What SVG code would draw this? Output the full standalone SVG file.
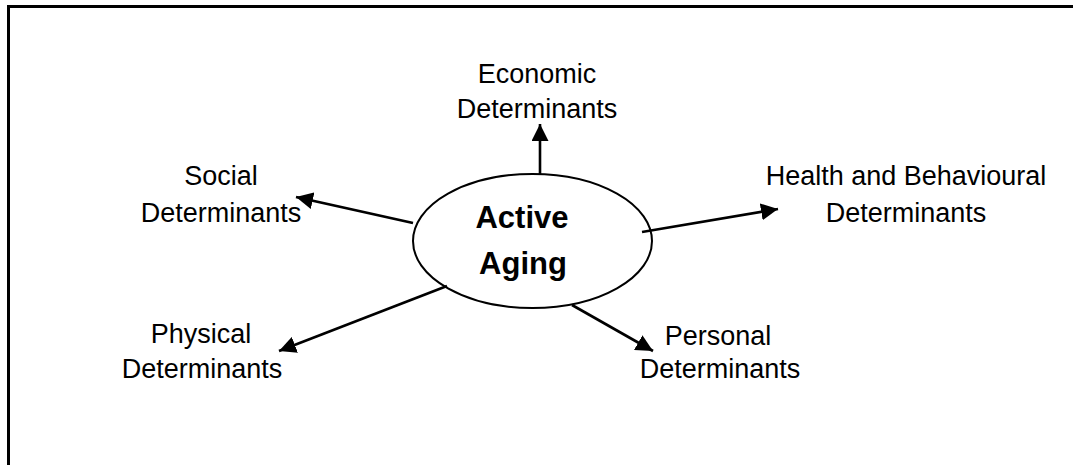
<svg xmlns="http://www.w3.org/2000/svg" width="1073" height="465" viewBox="0 0 1073 465">
<defs>
<style>
.lbl{font-family:"Liberation Sans",Arial,sans-serif;font-size:27px;fill:#000;text-anchor:middle}
.ctr{font-family:"Liberation Sans",Arial,sans-serif;font-size:31px;font-weight:bold;fill:#000;text-anchor:middle}
.edge{stroke:#000;stroke-width:2.6;fill:none}
</style>
<marker id="ah" markerUnits="userSpaceOnUse" markerWidth="19" markerHeight="17" refX="17" refY="8.5" orient="auto">
<path d="M0,0 L17,8.5 L0,17 Z" fill="#000"/>
</marker>
</defs>
<rect width="1073" height="465" fill="#fff"/>
<g id="frame">
<path d="M8.5,465 L8.5,6.5 L1073,6.5" stroke="#000" stroke-width="3" fill="none"/>
</g>
<g id="active-aging">
<ellipse cx="532.5" cy="241" rx="119.5" ry="67" fill="#fff" stroke="#000" stroke-width="2"/>
<text class="ctr" x="522" y="228">Active</text>
<text class="ctr" x="523" y="274">Aging</text>
</g>
<g id="connectors">
<line class="edge" x1="540" y1="175" x2="540" y2="124" marker-end="url(#ah)"/>
<line class="edge" x1="413" y1="223" x2="296" y2="197" marker-end="url(#ah)"/>
<line class="edge" x1="447" y1="286" x2="279" y2="351" marker-end="url(#ah)"/>
<line class="edge" x1="642" y1="232" x2="778" y2="209" marker-end="url(#ah)"/>
<line class="edge" x1="572" y1="305" x2="653" y2="351" marker-end="url(#ah)"/>
</g>
<g id="economic">
<text class="lbl" x="537" y="83">Economic</text>
<text class="lbl" x="537" y="118">Determinants</text>
</g>
<g id="social">
<text class="lbl" x="221" y="185">Social</text>
<text class="lbl" x="221" y="222">Determinants</text>
</g>
<g id="health">
<text class="lbl" x="906" y="185">Health and Behavioural</text>
<text class="lbl" x="906" y="222">Determinants</text>
</g>
<g id="physical">
<text class="lbl" x="201" y="343">Physical</text>
<text class="lbl" x="202" y="378">Determinants</text>
</g>
<g id="personal">
<text class="lbl" x="718" y="345">Personal</text>
<text class="lbl" x="720" y="378">Determinants</text>
</g>
</svg>
